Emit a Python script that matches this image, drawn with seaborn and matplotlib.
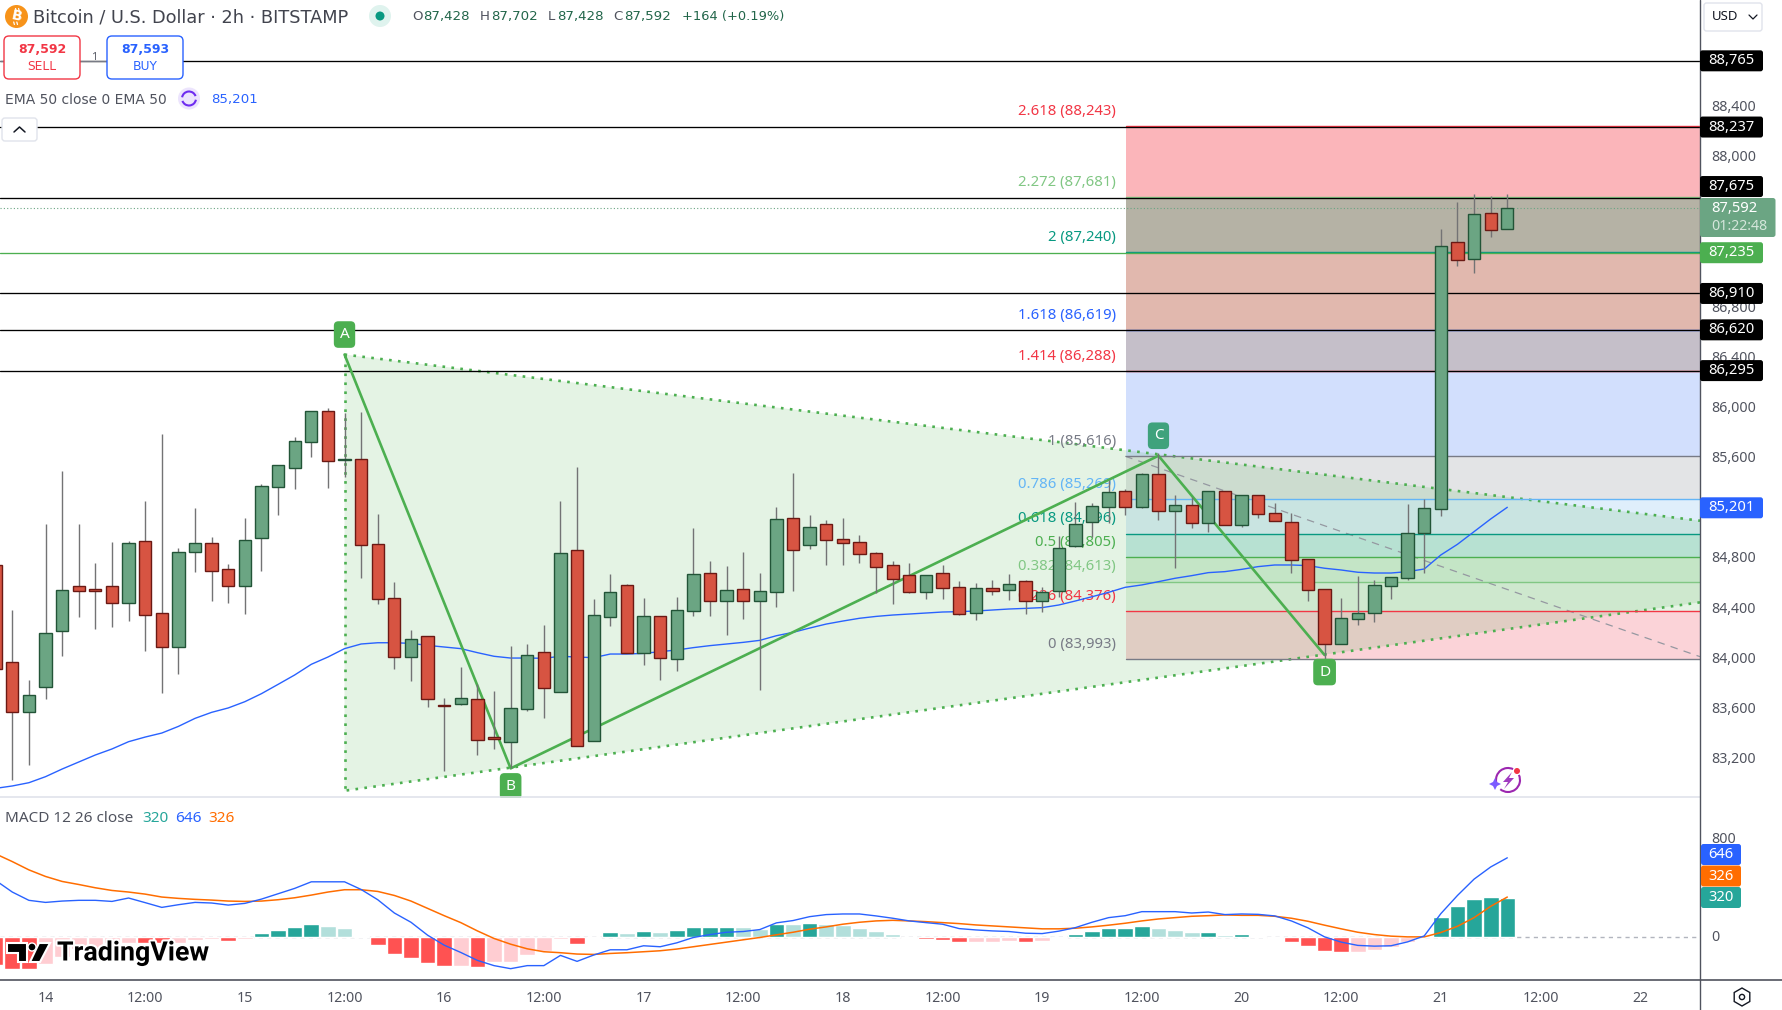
#!/usr/bin/env python3
# -*- coding: utf-8 -*-

import numpy as np
import matplotlib
matplotlib.use("Agg")
import matplotlib.pyplot as plt
import matplotlib.patheffects as pe
from matplotlib.patches import Arc, Circle, FancyBboxPatch, Polygon, RegularPolygon
from matplotlib.transforms import ScaledTranslation
import pandas as pd
import seaborn as sns

# ---------------------------
# Candles (2h BTCUSD)
# ---------------------------
opens = [84745, 83969, 83575, 83769, 84221, 84575, 84551, 84575, 84444, 84934, 84359, 84094, 84851,
         84918, 84710, 84580, 84963, 85369, 85521, 85728, 85970, 85585, 85587, 84910, 84479, 84009,
         84176, 83628, 83639, 83674, 83371, 83336, 83599, 84048, 83735, 84862, 83344, 84327, 84583,
         84040, 84335, 83998, 84381, 84678, 84460, 84551, 84460, 84532, 85117, 84907, 85069, 84949,
         84926, 84838, 84742, 84662, 84532, 84678, 84567, 84365, 84559, 84548, 84615, 84460, 84540,
         84899, 85090, 85210, 85333, 85210, 85468, 85178, 85221, 85083, 85333, 85067, 85301, 85157,
         85085, 84790, 84551, 84118, 84317, 84360, 84580, 84644, 85003, 85194, 87318, 87188, 87549,
         87428]
highs = [84800, 84386, 83828, 85072, 85494, 85072, 84761, 84928, 84934, 85255, 85789, 84878, 85199,
         84968, 84753, 85120, 85388, 85540, 85765, 85970, 85997, 85954, 85965, 85151, 84609, 84227,
         84176, 83684, 83931, 83796, 83740, 84099, 84115, 84266, 85255, 85526, 84474, 84673, 84593,
         84482, 84335, 84490, 85040, 84777, 84737, 84848, 84681, 85205, 85478, 85143, 85104, 85120,
         84981, 84851, 84777, 84761, 84662, 84745, 84617, 84599, 84625, 84673, 84625, 84567, 84976,
         85247, 85237, 85423, 85348, 85476, 85635, 85303, 85290, 85333, 85333, 85301, 85301, 85242,
         85157, 84790, 84551, 84482, 84660, 84625, 84647, 85231, 85271, 87424, 87640, 87701, 87687,
         87702]
lows = [83850, 83030, 83150, 83676, 84019, 84330, 84237, 84250, 84298, 84062, 83724, 83876, 84689,
        84458, 84442, 84354, 84697, 85143, 85351, 85606, 85359, 85449, 84641, 84434, 83916, 83820,
        83612, 83102, 83628, 83230, 83278, 83123, 83583, 83525, 83735, 83304, 83344, 84261, 84040,
        83947, 83828, 83902, 84338, 84338, 84187, 84314, 83748, 84410, 84537, 84872, 84745, 84745,
        84761, 84522, 84434, 84522, 84474, 84474, 84346, 84306, 84506, 84466, 84354, 84370, 84492,
        84891, 84971, 85077, 85144, 85200, 85104, 84724, 85037, 85011, 85067, 85051, 85120, 85099,
        84684, 84461, 83987, 84118, 84269, 84290, 84474, 84625, 84684, 85136, 87129, 87076, 87363,
        87428]
closes = [83913, 83575, 83706, 84200, 84543, 84540, 84540, 84444, 84918, 84349, 84094, 84846, 84918,
          84700, 84580, 84942, 85372, 85540, 85731, 85970, 85577, 85589, 84907, 84476, 84009, 84152,
          83679, 83623, 83682, 83352, 83360, 83602, 84024, 83767, 84838, 83304, 84343, 84527, 84040,
          84335, 84000, 84383, 84670, 84460, 84543, 84460, 84535, 85109, 84867, 85045, 84947, 84923,
          84835, 84731, 84636, 84532, 84662, 84564, 84357, 84559, 84540, 84591, 84460, 84532, 84878,
          85069, 85213, 85324, 85210, 85468, 85178, 85221, 85083, 85333, 85067, 85301, 85154, 85099,
          84788, 84548, 84118, 84320, 84360, 84583, 84647, 84997, 85197, 87286, 87174, 87541, 87419,
          87592]

ema50 = [82964, 82983, 83009, 83057, 83118, 83174, 83230, 83278, 83336, 83373, 83405, 83458, 83522,
         83570, 83605, 83655, 83719, 83793, 83868, 83953, 84011, 84078, 84115, 84125, 84125, 84120,
         84104, 84091, 84078, 84046, 84017, 84003, 84003, 84001, 84017, 84011, 84006, 84035, 84035,
         84040, 84054, 84067, 84086, 84102, 84115, 84128, 84144, 84181, 84208, 84242, 84274, 84298,
         84320, 84335, 84346, 84354, 84362, 84370, 84373, 84378, 84386, 84394, 84399, 84405, 84426,
         84458, 84492, 84527, 84567, 84586, 84612, 84639, 84660, 84684, 84692, 84710, 84732, 84745,
         84745, 84740, 84719, 84705, 84687, 84681, 84681, 84692, 84713, 84825, 84910, 85011, 85112,
         85205]

macd_line = [460, 365, 297, 280, 291, 297, 297, 288, 316, 278, 239, 261, 280, 275, 258, 272, 307, 351,
             395, 449, 449, 449, 386, 302, 193, 117, 11, -71, -131, -196, -239, -264, -239, -239, -155,
             -204, -152, -109, -109, -76, -84, -52, -8, 16, 35, 41, 57, 112, 131, 163, 180, 185, 185,
             169, 150, 128, 114, 101, 65, 54, 46, 41, 27, 24, 44, 73, 117, 155, 171, 204, 204, 204,
             193, 201, 180, 185, 182, 169, 128, 71, -3, -46, -73, -79, -76, -44, 5, 188, 337, 471,
             571, 646]
signal_line = [678, 615, 547, 493, 452, 427, 400, 378, 365, 348, 324, 313, 305, 299, 291, 288, 291, 302,
               318, 340, 365, 384, 384, 370, 337, 291, 231, 171, 114, 46, -16, -63, -101, -125, -133,
               -144, -147, -139, -133, -125, -117, -103, -84, -65, -46, -27, -8, 14, 35, 60, 79, 101,
               117, 128, 133, 128, 122, 114, 106, 95, 87, 79, 71, 63, 63, 68, 79, 93, 109, 128, 144,
               155, 166, 171, 177, 174, 174, 166, 150, 125, 93, 63, 35, 16, 3, -3, -3, 33, 84, 155,
               248, 324]
hist_values = [-234, -267, -267, -226, -166, -100, -100, -57, -57, -57, -57, -52, -30, -24, -38, -19, 27,
               52, 76, 101, 84, 68, 3, -71, -144, -177, -218, -242, -242, -250, -210, -210, -152, -120,
               -24, -63, -14, 35, 27, 44, 35, 52, 76, 76, 76, 76, 60, 101, 101, 109, 101, 93, 68, 44,
               19, -14, -22, -30, -46, -46, -46, -38, -46, -38, -14, 19, 44, 68, 68, 84, 68, 52, 35,
               35, 11, 19, 3, -14, -46, -79, -120, -128, -128, -112, -87, -46, -5, 158, 248, 305, 321,
               320]
# 1 = saturated bar, 0 = pale bar
hist_strong = [1, 1, 1, 0, 0, 0, 0, 0, 0, 1, 1, 0, 0, 0, 1, 0, 1, 1, 1, 1, 0, 0, 0, 1, 1, 1, 1, 1, 0, 1,
               0, 0, 0, 0, 0, 1, 0, 1, 0, 1, 0, 1, 1, 1, 1, 0, 0, 1, 0, 1, 0, 0, 0, 0, 0, 1, 1, 1, 1, 0,
               0, 0, 1, 0, 0, 1, 1, 1, 1, 1, 0, 0, 0, 1, 0, 1, 0, 1, 1, 1, 1, 1, 0, 0, 0, 0, 0, 1, 1, 1,
               1, 1]

# ---------------------------
# Fibonacci levels and harmonic pattern
# ---------------------------
fib_ratio = ["2.618", "2.272", "2", "1.618", "1.414", "1", "0.786", "0.618", "0.5", "0.382", "0.236", "0"]
fib_price = [88243, 87681, 87240, 86619, 86288, 85616, 85269, 84996, 84805, 84613, 84376, 83993]
fib_line_color = ["#f23645", "#81c784", "#089981", "#2962ff", "#f23645", "#787b86",
                  "#64b5f6", "#089981", "#4caf50", "#81c784", "#f23645", "#787b86"]
fib_band_color = ["#fbb5ba", "#b5b2a5", "#e1b8ae", "#c5bfc9", "#d2dffd", "#e3e4e6",
                  "#dfeefb", "#caeae9", "#d9efdb", "#e5f3e5", "#fbd3d8"]
fib_start = 68.05

point_names = ["A", "B", "C", "D"]
point_x = [21, 31, 70, 80]
point_y = [86423, 83123, 85616, 84027]
point_color = ["#4caf50", "#4caf50", "#3fa27c", "#4caf50"]
point_offset = [20, -18, 20, -17]

wedge_x = [21, 102.6, 102.6, 21]
wedge_y = [86423, 85098, 84447, 82945]
dashed_x = [68, 102.6]
dashed_y = [85612, 84014]

black_levels = [88765, 88237, 87675, 86910, 86620, 86295]
green_level = 87235
last_price = 87592

# price scale badges: value, shift off the level in px, colour
badge_value = [88765, 88237, 87675, 87235, 86910, 86620, 86295, 85201]
badge_shift = [0, 0, -11, 0, 0, 0, 0, 0]
badge_color = ["#000000", "#000000", "#000000", "#4caf50", "#000000", "#000000", "#000000", "#2962ff"]

macd_badges = ["646", "326", "320"]
macd_badge_color = ["#2962ff", "#ff6d00", "#26a69a"]

price_ticks = [83200, 83600, 84000, 84400, 84800, 85600, 86000, 86400, 86800, 88000, 88400]
time_pos = [3, 9, 15, 21, 27, 33, 39, 45, 51, 57, 63, 69, 75, 81, 87, 93, 99]
time_labels = ["14", "12:00", "15", "12:00", "16", "12:00", "17", "12:00", "18", "12:00", "19", "12:00",
               "20", "12:00", "21", "12:00", "22"]

# ---------------------------
# Figure and panes (positions in px of the 1782x1010 image)
# ---------------------------
sns.set_theme(style="white")
plt.rcParams["font.family"] = ["Noto Sans", "DejaVu Sans"]

W, H = 1782, 1010
TICK = "#50535e"
WIDE = ["DejaVu Sans"]
fig = plt.figure(figsize=(W / 100, H / 100), dpi=100, facecolor="white")


def pane(left, top, right, bottom):
    return fig.add_axes([left / W, 1 - bottom / H, (right - left) / W, (bottom - top) / H])


ax = pane(0, 0, 1700, 797)
ax_macd = pane(0, 798, 1700, 980)
ui = fig.add_axes([0, 0, 1, 1], zorder=10)
ui.set_xlim(0, W)
ui.set_ylim(H, 0)
ui.axis("off")
ui.patch.set_alpha(0)

idx = np.arange(len(closes))
opens_a, closes_a, highs_a, lows_a = map(np.array, (opens, closes, highs, lows))

# ---------------------------
# Main pane
# ---------------------------
ax.set_xlim(0.26, 102.6)
ax.set_ylim(82895, 89250)

for i, color in enumerate(fib_band_color):
    ax.fill_between([fib_start, 102.6], fib_price[i + 1], fib_price[i], color=color, lw=0, zorder=1)
ax.fill(wedge_x, wedge_y, color="#4caf50", alpha=0.15, lw=0, zorder=2)
dots = (0, (1, 2.4))
ax.plot(wedge_x[:2], wedge_y[:2], color="#4caf50", lw=1.9, ls=dots, zorder=3)
ax.plot(wedge_x[2:], wedge_y[2:], color="#4caf50", lw=1.9, ls=dots, zorder=3)
ax.plot([wedge_x[0], wedge_x[3]], [wedge_y[0], wedge_y[3]], color="#4caf50", lw=1.9, ls=dots, zorder=3)
ax.plot(dashed_x, dashed_y, color="#9598a1", lw=0.9, ls=(0, (6, 5)), zorder=3)

for ratio, price, color in zip(fib_ratio, fib_price, fib_line_color):
    ax.plot([fib_start, 102.6], [price, price], color=color, lw=1.0, zorder=3)
    ax.annotate(f"{ratio} ({price:,})", xy=(67.45, price), xytext=(0, 10.6), textcoords="offset points",
                ha="right", va="center", color=color, fontsize=10.7, zorder=3)

for level in black_levels:
    ax.axhline(level, color="#000000", lw=0.95, zorder=3.5)
ax.axhline(green_level, color="#4caf50", lw=0.95, zorder=3.5)
ax.axhline(last_price, color="#6ba583", lw=0.8, ls=(0, (1, 2)), zorder=3.5)

sns.lineplot(x=idx, y=ema50, ax=ax, color="#2962ff", lw=1.0, zorder=4, errorbar=None, estimator=None)
sns.lineplot(x=point_x, y=point_y, ax=ax, color="#4caf50", lw=1.9, zorder=4, errorbar=None, estimator=None, sort=False)

# candles
up = closes_a >= opens_a
ax.vlines(idx, lows_a, highs_a, color="#737375", lw=1.0, zorder=5)
ax.bar(idx[up], (closes_a - opens_a)[up], bottom=opens_a[up], width=0.74, color="#6ba583",
       edgecolor="#225437", lw=1.0, zorder=6)
ax.bar(idx[~up], (opens_a - closes_a)[~up], bottom=closes_a[~up], width=0.74, color="#d75442",
       edgecolor="#6b1914", lw=1.0, zorder=6)

for name, x, y, color, off in zip(point_names, point_x, point_y, point_color, point_offset):
    ax.annotate(name, xy=(x, y), xytext=(0, off * 0.72), textcoords="offset points", ha="center", va="center",
                color="white", fontsize=11, zorder=7,
                bbox=dict(boxstyle="round,pad=0.38,rounding_size=0.3", fc=color, ec="none"))

ax.set_yticks(price_ticks)
ax.set_yticklabels([f"{v:,}" for v in price_ticks])
ax.yaxis.tick_right()
ax.set_xticks([])
ax.tick_params(axis="y", length=0, pad=8, labelsize=10.2, labelcolor=TICK)
ax.set_ylabel("")
ax.set_xlabel("")
sns.despine(ax=ax, left=True, right=True, top=True, bottom=True)

# ---------------------------
# MACD pane
# ---------------------------
macd_df = pd.DataFrame({"idx": idx, "hist": hist_values, "strong": hist_strong})
macd_df["kind"] = np.where(macd_df["hist"] >= 0, "up", "down") + macd_df["strong"].astype(str)
hist_palette = {"up1": "#26a69a", "up0": "#b2dfdb", "down1": "#ff5252", "down0": "#ffcdd2"}
sns.barplot(data=macd_df, x="idx", y="hist", hue="kind", palette=hist_palette, dodge=False, native_scale=True,
            width=0.94, saturation=1, legend=False, ax=ax_macd, zorder=2)
ax_macd.axhline(0, color="#b2b5be", lw=1.0, ls=(0, (3, 3)), zorder=1)
sns.lineplot(x=idx, y=signal_line, ax=ax_macd, color="#ff6d00", lw=1.1, zorder=3, errorbar=None, estimator=None)
sns.lineplot(x=idx, y=macd_line, ax=ax_macd, color="#2962ff", lw=1.0, zorder=4, errorbar=None, estimator=None)

ax_macd.set_xlim(0.26, 102.6)
ax_macd.set_ylim(-357, 1137)
ax_macd.set_yticks([0, 800])
ax_macd.yaxis.tick_right()
ax_macd.set_xticks(time_pos)
ax_macd.set_xticklabels(time_labels)
ax_macd.tick_params(axis="both", length=0, labelsize=10.2, labelcolor=TICK)
ax_macd.tick_params(axis="x", pad=7.6)
ax_macd.tick_params(axis="y", pad=8)
ax_macd.set_xlabel("")
ax_macd.set_ylabel("")
for lab in ax_macd.get_xticklabels():
    if lab.get_text() == "21":
        lab.set_fontweight("bold")
sns.despine(ax=ax_macd, left=True, right=True, top=True, bottom=True)

# tick labels sit a little high on the price scale
nudge = ScaledTranslation(0, 0.8 / 72, fig.dpi_scale_trans)
for lab in ax.get_yticklabels() + ax_macd.get_yticklabels():
    lab.set_transform(lab.get_transform() + nudge)

# ---------------------------
# Frame lines, badges and header
# ---------------------------
ui.plot([0, 1700], [797, 797], color="#e0e3eb", lw=1.2)
ui.plot([0, W], [980, 980], color="#50535e", lw=1.2)
ui.plot([1700, 1700], [0, H], color="#50535e", lw=1.0)


def txt(x, y, s, color="#131722", size=10.2, ha="left", **kw):
    ui.text(x, y, s, color=color, fontsize=size, ha=ha, va="center", **kw)


def box(x0, y0, x1, y1, fc, ec="none", r=2.5, lw=1.0, z=2):
    ui.add_patch(FancyBboxPatch((x0 + r, y0 + r), x1 - x0 - 2 * r, y1 - y0 - 2 * r,
                                boxstyle=f"round,pad={r},rounding_size={r}", fc=fc, ec=ec, lw=lw, zorder=z))


def price_px(axes, value):
    return ui.transData.inverted().transform(axes.transData.transform((1, value)))[1]


for value, shift, color in zip(badge_value, badge_shift, badge_color):
    y = price_px(ax, value) + shift
    box(1700, y - 10.5, 1763, y + 10.5, color)
    txt(1731, y, f"{value:,}", color="white", size=10.6, ha="center", zorder=3)

box(1700, 198, 1775.5, 237, "#6ba583")
txt(1711, 208, f"{last_price:,}", color="white", size=10.6, zorder=3)
txt(1711, 226, "01:22:48", color="#d5e6db", zorder=3)

for i, (label, color) in enumerate(zip(macd_badges, macd_badge_color)):
    y0 = 844 + i * 21.5
    box(1701, y0, 1741, y0 + 21, color)
    txt(1721, y0 + 10.5, label, color="white", size=10.6, ha="center", zorder=3)

# USD box
box(1704, 3, 1762, 31, "white", ec="#e0e3eb")
txt(1712, 17, "USD", color="#131722", size=9.5, zorder=3)
ui.plot([1749, 1753, 1757], [15, 19, 15], color="#131722", lw=0.9, zorder=3)

# title row
ui.add_patch(Circle((16.5, 16.5), 11.5, fc="#f7931a", ec="none"))
txt(16.5, 16.5, "B", color="white", size=10, ha="center", family=WIDE, weight="bold", rotation=-12, zorder=3)
ui.plot([15.5, 16.2], [8.5, 11], color="white", lw=0.9, zorder=3)
ui.plot([18.6, 19.3], [8.5, 11], color="white", lw=0.9, zorder=3)
ui.plot([13.7, 14.4], [22, 24.5], color="white", lw=0.9, zorder=3)
ui.plot([16.8, 17.5], [22, 24.5], color="white", lw=0.9, zorder=3)
txt(33, 17, "Bitcoin / U.S. Dollar · 2h · BITSTAMP", color="#42444e", size=12.8, family=WIDE)
ui.add_patch(Circle((380, 16), 11, fc="#dff3ee", ec="none"))
ui.add_patch(Circle((380, 16), 4.5, fc="#089981", ec="none", zorder=3))
ohlc_x = [412, 480, 548, 613]
ohlc_letter = ["O", "H", "L", "C"]
ohlc_text = ["87,428", "87,702", "87,428", "87,592"]
for x, letter, value in zip(ohlc_x, ohlc_letter, ohlc_text):
    txt(x, 16.5, letter, color="#50535e", size=9.6, family=WIDE)
    txt(x + (9.5 if letter == "L" else 11.5), 16.5, value, color="#22664a", size=9.6, family=WIDE)
txt(682, 16.5, "+164 (+0.19%)", color="#22664a", size=9.4, family=WIDE)

# sell / buy buttons
ui.plot([0, 107], [61, 61], color="#787b86", lw=0.9, zorder=1)
box(4, 36, 80, 79, "white", ec="#f23645", r=5, lw=1.0)
box(107, 36, 183, 79, "white", ec="#2962ff", r=5, lw=1.0)
txt(42, 49.5, f"{last_price:,}", color="#f23645", size=9, ha="center", weight="bold", family=WIDE, zorder=3)
txt(42, 67, "SELL", color="#f23645", size=8.8, ha="center", family=WIDE, zorder=3)
txt(145, 49.5, "87,593", color="#2962ff", size=9, ha="center", weight="bold", family=WIDE, zorder=3)
txt(145, 67, "BUY", color="#2962ff", size=8.8, ha="center", family=WIDE, zorder=3)
txt(94, 57, "1", color="#50535e", size=8, ha="center", zorder=3)

# EMA legend
txt(5, 99.5, "EMA 50 close 0 EMA 50", color="#50535e", size=10, family=WIDE)
ui.add_patch(Circle((189, 98.5), 11, fc="#ece4fd", ec="none"))
ui.add_patch(Arc((189, 98.5), 14, 14, theta1=190, theta2=340, color="#6e2cf0", lw=1.5, zorder=3))
ui.add_patch(Arc((189, 98.5), 14, 14, theta1=10, theta2=160, color="#6e2cf0", lw=1.5, zorder=3))
txt(211, 99.5, "85,201", color="#2962ff", size=9.6, family=WIDE)

# collapse button
box(2, 118, 37, 141, "white", ec="#e0e3eb", r=3)
ui.plot([14, 19.5, 25], [132, 127, 132], color="#131722", lw=1.1, zorder=3)

# MACD legend
txt(5, 818.5, "MACD 12 26 close", color="#50535e", size=11)
txt(142, 818.5, "320", color="#26a69a", size=11)
txt(175, 818.5, "646", color="#2962ff", size=11)
txt(208, 818.5, "326", color="#ff6d00", size=11)

# TradingView mark
logo = [Polygon([(7, 943), (27, 943), (27, 962), (18, 962), (18, 953), (7, 953)], fc="#000000", ec="white", lw=1.5, zorder=3),
        Polygon([(39, 943), (50, 943), (40, 962), (30, 962)], fc="#000000", ec="white", lw=1.5, zorder=3),
        Circle((32, 947), 4, fc="#000000", ec="white", lw=1, zorder=3)]
for patch in logo:
    ui.add_patch(patch)
ui.text(57, 953, "TradingView", color="#000000", fontsize=19.3, weight="bold", family="Roboto", va="center", zorder=3,
        path_effects=[pe.withStroke(linewidth=3, foreground="white")])

# lightning icon on the chart
ui.add_patch(Arc((1508, 780), 24, 24, theta1=170, theta2=295, color="#9c27b0", lw=1.5, zorder=3))
ui.add_patch(Arc((1508, 780), 24, 24, theta1=335, theta2=490, color="#9c27b0", lw=1.5, zorder=3))
ui.add_patch(Polygon([(1512, 772), (1503, 782), (1508, 782), (1504, 789), (1514, 778), (1509, 778)],
                     fc="#a03ac0", ec="none", zorder=4))
ui.add_patch(Polygon([(1495, 778), (1497, 782), (1501, 784), (1497, 786), (1495, 790), (1493, 786), (1489, 784), (1493, 782)],
                     fc="#7b5cff", ec="none", zorder=4))
ui.add_patch(Circle((1517, 771), 3, fc="#f23645", ec="none", zorder=4))

# settings icon
ui.add_patch(RegularPolygon((1742, 997), 6, radius=9, fc="white", ec="#131722", lw=1.0, zorder=3))
ui.add_patch(Circle((1742, 997), 2.6, fc="white", ec="#131722", lw=1.0, zorder=4))

fig.savefig("out.png", dpi=100)
print("saved out.png")
